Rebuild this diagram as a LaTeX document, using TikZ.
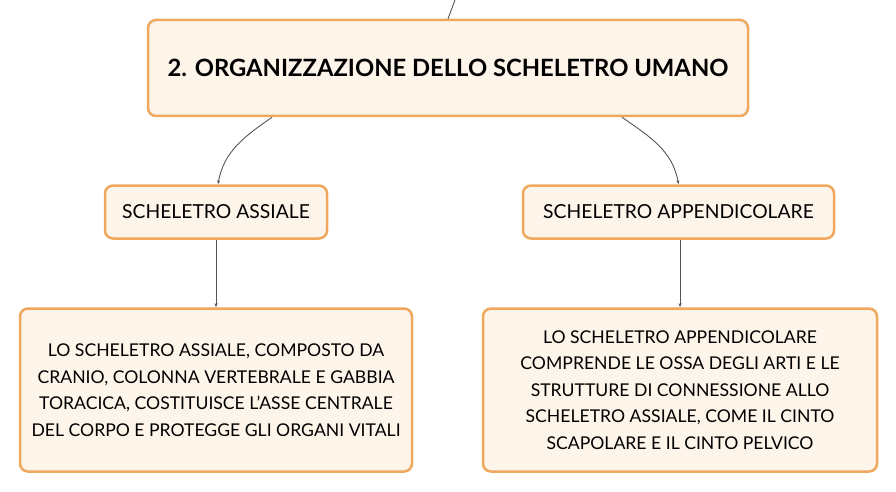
\documentclass[tikz,border=0pt]{standalone}
\usepackage{fontspec}
\setmainfont{Lato}
\definecolor{BoxLine}{RGB}{240,168,92}
\definecolor{BoxFill}{RGB}{253,244,234}
\definecolor{LinkGray}{RGB}{85,85,85}
\usetikzlibrary{positioning,arrows.meta}
\tikzset{>={Stealth[length=4pt,width=3pt]}}
\tikzset{mybox/.style={draw=BoxLine,fill=BoxFill,line width=2.5pt,rounded corners=8pt,align=center,inner sep=0pt}}
\tikzset{mylink/.style={LinkGray,line width=0.9pt}}

\begin{document}
\begin{tikzpicture}[x=1pt,y=-1pt]
    \useasboundingbox (0,0) rectangle (896,492);
    % main title
    \node[mybox, minimum width=600pt, minimum height=96pt, font=\fontsize{23.8}{28}\selectfont\bfseries] (title) at (448,68)
        {2. ORGANIZZAZIONE DELLO SCHELETRO UMANO};
    \coordinate (up) at (455,0);
    \draw[mylink] (title.north) -- (up);
    % the two parts
    \node[mybox, minimum width=222pt, minimum height=53pt, font=\fontsize{19.3}{22}\selectfont] (axial) at (216,212)
        {SCHELETRO ASSIALE};
    \node[mybox, minimum width=311pt, minimum height=53pt, font=\fontsize{19.3}{22}\selectfont] (append) at (678.5,212)
        {SCHELETRO APPENDICOLARE};
    % descriptions
    \node[mybox, minimum width=392pt, minimum height=163pt, font=\fontsize{17.6}{26.5}\selectfont] (axialtxt) at (216,390)
        {LO SCHELETRO ASSIALE, COMPOSTO DA\\CRANIO, COLONNA VERTEBRALE E GABBIA\\TORACICA, COSTITUISCE L'ASSE CENTRALE\\DEL CORPO E PROTEGGE GLI ORGANI VITALI};
    \node[mybox, minimum width=394pt, minimum height=163pt, font=\fontsize{17.6}{26.5}\selectfont] (appendtxt) at (680,390)
        {LO SCHELETRO APPENDICOLARE\\COMPRENDE LE OSSA DEGLI ARTI E LE\\STRUTTURE DI CONNESSIONE ALLO\\SCHELETRO ASSIALE, COME IL CINTO\\SCAPOLARE E IL CINTO PELVICO};
    % connectors
    \draw[mylink,->] ([xshift=-176pt]title.south) to[out=-145,in=80] ([xshift=2pt]axial.north);
    \draw[mylink,->] ([xshift=174pt]title.south) to[out=-35,in=100] (append.north);
    \draw[mylink,->] (axial) -- (axialtxt);
    \draw[mylink,->] (append.south -| appendtxt.north) -- (appendtxt);
\end{tikzpicture}
\end{document}
